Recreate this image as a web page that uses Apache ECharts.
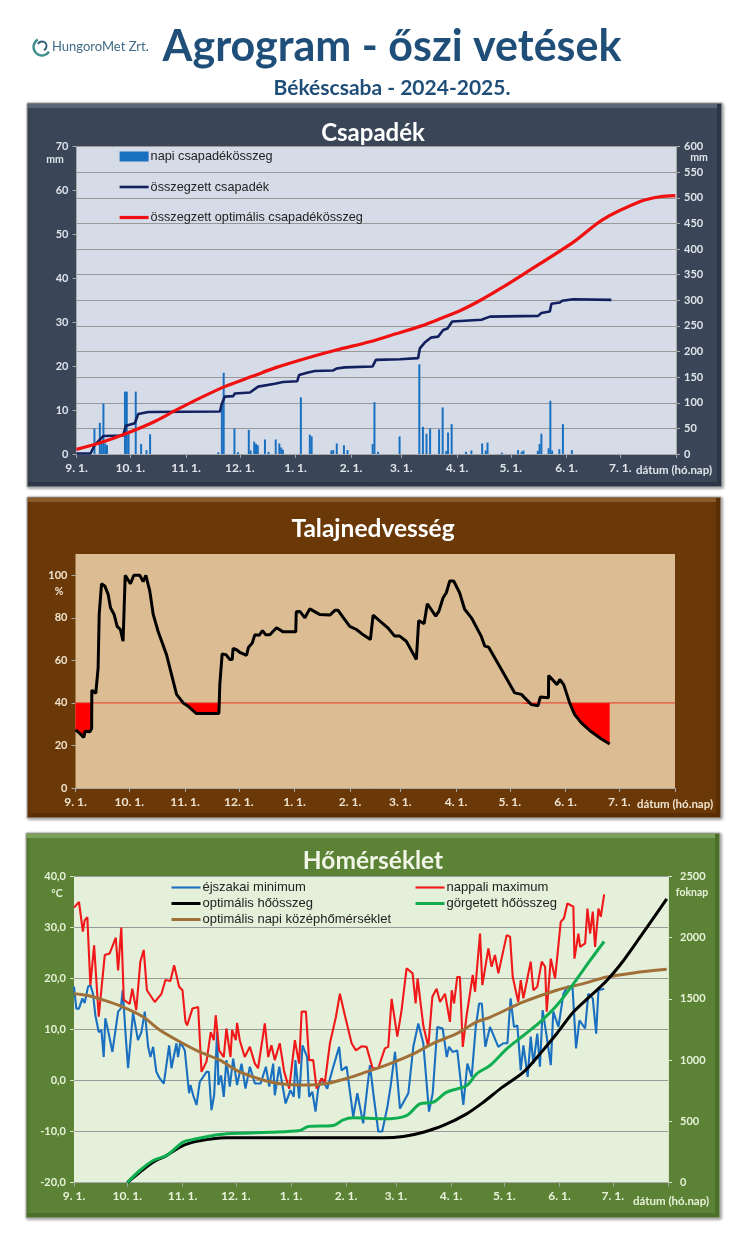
<!DOCTYPE html>
<html>
	<head>
		<meta charset="UTF-8">
		<title>Agrogram - őszi vetések</title>
		<script type="text/javascript" src="https://cdn.jsdelivr.net/npm/echarts@6/dist/echarts.min.js"></script>
		<style>
			html, body { margin: 0; padding: 0; background: #fff; }
		</style>
	</head>
	<body>
		<div id="main" style="width: 750px;height:1242px;"></div>
		<script type="text/javascript">
			// x values are days counted from 1 September
			var monthTicks = [0, 30, 61, 91, 122, 153, 181, 212, 242, 273, 303, 334];
			var monthLabels = ['9. 1.', '10. 1.', '11. 1.', '12. 1.', '1. 1.', '2. 1.', '3. 1.', '4. 1.', '5. 1.', '6. 1.', '7. 1.', ''];

			var rainDaily = [[10,5.8],[13,7.1],[14,2.4],[15,11.5],[16,2.4],[17,2],[27,14.2],[28,14.2],[29,4.7],[33,14.2],[36,2.3],[39,0.9],[41,4.5],
				[79,0.4],[81,10.8],[82,18.5],[88,5.8],[90,0.4],[96,5.5],[97,0.8],[99,2.8],[100,2.3],[101,2],[105,3.3],[107,0.5],[111,3.3],[113,2.4],[114,1.5],[115,1],
				[125,12.9],[130,4.4],[131,4],[142,0.8],[143,0.9],[145,2.4],[149,2],[151,0.9],[165,2.3],[166,11.8],[168,0.5],
				[180,4],[191,20.4],[193,6.2],[195,4.6],[197,5.8],[202,5.6],[204,10.6],[206,0.7],[207,4.9],[209,6.8],[217,0.5],[220,0.8],[226,2.4],[228,0.8],[229,2.6],
				[237,0.3],[246,0.9],[248,0.5],[249,0.8],[257,0.7],[258,2.3],[259,4.6],[263,1.3],[264,12.1],[265,0.8],[269,1.1],[271,6.8],[276,0.9]];
			var rainSum = [[0,1],[7.8,1],[10.2,17.6],[14.9,35],[26,36],[27.5,55],[32.5,60],[34.4,78],[40,82],[79.9,83],[80.8,96],[82.6,112],[87.3,113],[88.2,118],[96.6,120],
				[101.2,131.5],[110.5,137],[115,140.6],[123,142],[124,154],[129,159],[132.8,162],[143,163],[144.8,166.7],[149.5,169],[164.9,170.6],[166.8,183.6],
				[180.1,185],[190.3,187],[191.3,206],[194,217.4],[197.4,227],[201.5,229],[204.3,242],[206.7,245],[209.3,258.5],[216.3,260],[225.6,262],[230.3,268],
				[257.2,269.5],[259,275],[263.7,278],[264.6,293],[269.3,295.6],[270.6,299],[276.7,302],[298,300.8]];
			var rainOptimal = [[0,9],[14.9,24],[27,39],[42.7,62],[55.7,86],[68.7,109],[82.6,131.5],[98.4,152],[111.4,169],[128.1,187],[144.8,203],[163.4,219],[177.4,234],
				[192.2,250],[203.3,265],[214.5,281],[225.6,301],[236.8,324],[250,353],[277,414],[293,457],[314.4,493],[325,502],[333.6,504]];

			var soilMoisture = [[0,27.3],[2.4,25.7],[4.6,23.8],[5.4,26.7],[8,26.4],[9,28],[9.1,46],[11.3,44.5],[12.6,56.5],[13.2,81.6],[14.5,96],[16.3,95],[18.2,91],[19.5,84.7],[21.5,81.6],
				[23.2,76],[25,74.5],[26.5,69],[27.7,100],[30.6,96],[32.5,100],[35.8,100],[37.7,97],[39.2,100],[41.4,92.5],[43.3,81.6],[46,73.7],[50.7,62.7],[56.3,44],[60,40],[62.8,38.4],[67.4,35],[79.9,35],
				[80.4,48.6],[81.3,49.4],[81.7,63],[83.8,62.7],[86,60.4],[87.3,60.4],[87.8,65.6],[89.7,65],[91.5,63.8],[95.3,62.4],[96.4,66.2],[98.4,68],[99.9,72],[102.3,71.8],[104.2,74],[106,72],[108.3,72],
				[112,75.3],[115.7,73.4],[122.7,73.4],[123,82.8],[125,83],[127.8,80],[130.5,84.2],[136,81.6],[141.7,81.3],[144.5,83.5],[146.3,83.5],[149,80.3],[152.8,76],[156.5,74.5],[160.3,72],[164.3,69.8],
				[165.8,81.3],[171.4,77.2],[174,75.3],[177.8,71.4],[180.6,71.4],[184.3,69],[189.9,60.4],[191.2,78.7],[194.2,77.2],[196,86.6],[200.7,80.8],[202.4,83],[204.8,89.4],[206.6,91.8],[208.5,97.3],[210.7,97.3],
				[214,91.8],[216.8,84],[220.6,80],[226,71.4],[228,66.7],[230.2,66.2],[237.3,55.7],[244.7,44.7],[248.4,44],[254,39.2],[257.7,38.7],[259,42.8],[263.5,42.4],[263.6,52.9],[268.3,48.6],[269.8,51],[272,48.6],
				[275.3,40],[278.1,34.5],[281.8,30.6],[287.4,26.4],[293,23],[297.6,20.7]];
			var soilLimit = [[0,40],[334,40]];

			var tempMin = [[0,18.4],[1.3,14.1],[2.8,14.1],[4.7,16.1],[6,15.2],[7.9,18.4],[9.2,18.7],[10.7,17],[12,12.8],[13.9,9.5],[15.4,9.9],[16.7,4.6],[17.6,12.2],[19.1,9.9],[21.6,5.6],[24.8,13.5],[26.3,14.1],[27.4,17.7],
				[29.1,8.6],[30.4,2.4],[33.2,13.3],[36,7.9],[37.9,9.5],[39.8,13.5],[41.7,6.6],[43,4.6],[44.5,6.6],[46.3,1.7],[48.2,0.4],[50.5,-0.6],[53.5,6.9],[54.8,2.4],[57.6,7.3],[58.5,4.6],[59.8,7.6],[62.3,5.9],
				[64.7,-2.5],[65.5,-0.9],[67,-2.9],[68.9,-4.8],[70.7,-0.3],[74.5,1.7],[75.8,1.7],[77.3,-5.8],[78.8,-2.9],[80.5,9.5],[81.2,-0.9],[82.7,1],[84.2,-3.2],[85.7,4],[87.6,-1.2],[89.5,4.3],[91.7,-0.9],[94.2,3.3],[96.4,-1.6],
				[98.9,2.7],[101.7,-0.6],[104.9,-0.6],[107.9,2.7],[109.8,-1.2],[112,3.3],[112.9,-2.9],[115.4,2.7],[119,-4.5],[121.7,-1.9],[123.6,-3.2],[124.5,4],[126.6,-3.5],[128.5,6.9],[131.1,4.6],[132.2,-3.2],[134,-2.2],[135.8,-6.1],[137.3,-1.6],
				[139.2,0.4],[142.4,-1.6],[145.8,2.7],[149.1,6.6],[150.4,2],[153.3,2.7],[157,-7.1],[159.3,-2.5],[162.6,-8.4],[166.4,3],[168.3,-2.5],[171.1,-10],[173.3,-10],[176.2,-5.2],[178,-1.2],[180.5,5.6],[183.3,-5.5],[188,-2.5],
				[190.8,6.6],[193.6,11.2],[196.4,7.3],[199.6,-6.1],[201.7,-2.5],[204.3,10.5],[207.3,10.2],[209.6,4.6],[210.9,6.6],[212.9,5.6],[215.5,5.9],[218.9,-4.8],[221.2,3.3],[223.6,0.7],[225.9,10.5],[227.8,15.1],[229.3,15.1],[231.3,6.6],
				[233.9,10.5],[238.6,6.6],[241.4,7.3],[243.7,7.3],[245.5,16.1],[247.4,10.5],[249.3,10.8],[251.2,2],[252.7,6.9],[255.1,0.7],[256.8,8.6],[258.3,3.3],[260.5,9.2],[262,2.7],[263.5,13.8],[265.8,8.6],[268.1,3],[269.5,13.5],[272.4,10.5],
				[275.2,17],[277.4,18.4],[280.3,18.4],[282.3,6.3],[284.2,11.8],[287.4,10.2],[289.2,17],[291.7,16.1],[293.6,9.2],[294.9,17.7],[298.1,18]];
			var tempMax = [[0,33.9],[2.8,35],[5,29.2],[6,31.4],[7.5,32],[9.2,18.7],[11.3,26.5],[13.9,12.5],[17.3,24.6],[20,24.9],[23.5,28],[24.8,21.6],[26.6,30],[28,15.8],[31.3,15],[32.8,18],[35,13.8],[37.3,23.3],[39.2,25.6],[41,17.7],
				[45.4,15.4],[49.2,17],[51.4,19.7],[54.2,19.5],[56.3,22.6],[59.1,18.4],[61,17.7],[62.7,11.5],[63.6,10.8],[66.6,14.1],[69.8,14.4],[71.7,1.7],[74.5,3.7],[76.9,9.5],[78.6,7.9],[79.7,12.8],[81.6,5.9],[84.2,4.6],[85.7,10.2],[88,4.6],
				[88.9,9.9],[91,7.9],[91.7,11.3],[93.2,7.9],[96,4.6],[98.9,6.6],[101.7,3.3],[103.5,2.4],[107.3,11.2],[109.2,4.6],[111,6.9],[112.9,4],[115.7,7.3],[118.2,1.7],[121,-1.6],[124.2,7.9],[126.6,3.3],[128,13.5],[130.4,13.5],[132.2,4],
				[134.5,4],[136.4,-1.6],[139.2,0.4],[141.1,-0.3],[143.9,7.3],[147.3,12.5],[149.5,17],[152.3,12.8],[156.1,7.3],[158.5,5.9],[161.7,6.7],[164.5,6.6],[167.9,2.4],[171.1,2.4],[174.8,6.3],[176.7,6.6],[178.6,16],[181.8,8.6],[184.2,13.8],
				[187,22],[190.4,21],[192.1,15.1],[193.2,20],[196.4,10.8],[199.2,6.6],[201.5,16.4],[203.9,18],[205.8,15.4],[208.6,17],[211.4,11.5],[212.4,17.7],[213.7,15.1],[215.5,20.3],[217,20.3],[218.6,6.6],[220.8,12.8],[224.2,20.7],[225.5,17.4],
				[228.3,28.8],[229.6,18.7],[233,25.9],[234.8,22.3],[236.7,24.6],[238.6,21],[243.3,28.5],[245.2,28.2],[246.7,20.3],[249.8,15.4],[251.2,19.7],[252.7,16.1],[256.8,23.3],[258.3,17.7],[260.5,18.4],[263,23.3],[264.9,22.3],[265.8,13.5],
				[268.1,23.9],[270.5,20],[273.7,31.1],[275.5,31.8],[277.4,34.7],[280.8,34.1],[281.4,23.9],[283.6,28.8],[284.6,26.2],[287.4,26.9],[288.7,33.7],[290.2,28.8],[291.7,33.1],[293,26.2],[294.9,33.7],[296.2,32.1],[298.1,36.5]];
			var tempOptimal = [[0,17],[7,16.7],[16.3,15.8],[27.6,14.4],[38.8,12.5],[48.2,9.9],[59.5,7.6],[70.7,5.6],[82,4],[91.4,2],[100.8,0.7],[108.2,-0.1],[117.6,-0.7],[130.7,-0.9],[142,-0.6],[153.3,0.4],[164.5,1.7],[177.7,3.3],
				[190.8,5.2],[202,7.3],[215.2,9.2],[226.4,11.5],[233.9,12.4],[252.7,15.4],[271.4,17.7],[286.4,19],[299.6,20.3],[314.6,21.1],[333.3,21.8]];
			var heatOptimal = [[30,0],[37,84],[44.5,166],[52,220],[59.5,289],[67,330],[78.2,357],[85.7,365],[110,365],[173.9,365],[185.2,376],[196.4,411],[207.7,466],[220.8,561],[230.2,656],[239.6,765],[252.7,901],[262,1051],
				[271.4,1215],[280.8,1392],[290.2,1522],[299.6,1650],[309,1814],[318.3,2004],[333.3,2317]];
			var heatRolling = [[30,0],[37,98],[44.5,180],[52,220],[61.4,330],[68.9,357],[82,392],[93.2,403],[110,411],[127,425],[131.7,458],[145.8,466],[151.4,512],[157,528],[173.9,520],[187,547],[194.5,643],[202,656],[209.6,738],
				[220.8,792],[226.4,888],[233.9,956],[243.3,1092],[252.7,1201],[262,1310],[271.4,1446],[280.8,1623],[290.2,1814],[298.1,1969]];

			// the red fill runs from the 40 % limit down to the moisture line
			var soilDeficit = soilMoisture.map(function (p) {
				return [p[0], Math.min(p[1], 40)];
			});

			var fontName = 'Lato';

			function panel(x, y, w, h, color, light, dark) {
				return [
					{ type: 'rect', z: -10, shape: { x: x, y: y, width: w, height: h }, style: { fill: color, stroke: '#b5b5b5', lineWidth: 1, shadowBlur: 3, shadowColor: 'rgba(0,0,0,0.4)', shadowOffsetX: 1, shadowOffsetY: 1 } },
					{ type: 'rect', z: -9, shape: { x: x + 1, y: y + 1, width: w - 2, height: 4 }, style: { fill: light } },
					{ type: 'rect', z: -9, shape: { x: x + 1, y: y + h - 5, width: w - 2, height: 4 }, style: { fill: dark } },
					{ type: 'rect', z: -9, shape: { x: x + w - 5, y: y + 1, width: 4, height: h - 2 }, style: { fill: dark } }
				];
			}

			function label(text, x, y, size, color, align, weight) {
				return {
					type: 'text', z: 50, x: x, y: y,
					style: { text: text, fill: color, fontFamily: fontName, fontSize: size, fontWeight: weight || 'bold', align: align || 'center', verticalAlign: 'middle' }
				};
			}

			function dateAxis(index, color) {
				return {
					type: 'value', gridIndex: index, min: 0, max: 334,
					axisLine: { onZero: false, lineStyle: { color: '#a8a8a8' } },
					axisTick: { customValues: monthTicks, length: 4, lineStyle: { color: '#a8a8a8' } },
					axisLabel: {
						customValues: monthTicks.slice(0, -1), color: color, fontFamily: fontName, fontSize: 12, fontWeight: 'bold', margin: 8,
						formatter: function (v) { return monthLabels[monthTicks.indexOf(v)]; }
					},
					splitLine: { show: false }
				};
			}

			function lineSeries(name, data, color, width, x, y, smooth) {
				return {
					name: name, type: 'line', xAxisIndex: x, yAxisIndex: y, data: data, symbol: 'none', smooth: smooth ? 0.3 : false,
					lineStyle: { color: color, width: width }, itemStyle: { color: color },
					animation: false
				};
			}

			// line entries of the legend show only the stroke, not the series symbol
			function strokeOnly(names) {
				return names.map(function (name) {
					return { name: name, itemStyle: { opacity: 0 } };
				});
			}

			var myChart = echarts.init(document.getElementById('main'));

			var graphics = [].concat(
				panel(27, 103, 695, 384, '#3a4657', '#5a6675', '#2c3644'),
				panel(27, 497, 694, 321, '#6b3907', '#8a5a28', '#5a2f05'),
				panel(26, 833, 694, 385, '#5b8235', '#7da158', '#4c6f2b'),
				[
					{ type: 'arc', z: 50, shape: { cx: 42, cy: 47, r: 8.5, startAngle: 0.6, endAngle: 4.2 }, style: { stroke: '#3f8f8c', fill: null, lineWidth: 2.5 } },
					{ type: 'arc', z: 50, shape: { cx: 42, cy: 46, r: 4.5, startAngle: 3.6, endAngle: 7.4 }, style: { stroke: '#2f5f7a', fill: null, lineWidth: 2 } },
					label('HungoroMet Zrt.', 52, 47, 13, '#3f6a84', 'left', 'normal'),
					label('Agrogram - őszi vetések', 392, 47, 43, '#1f4e79'),
					label('Békéscsaba - 2024-2025.', 392, 88, 21, '#1f4e79'),
					label('Csapadék', 373, 133, 24, '#ffffff'),
					label('Talajnedvesség', 373, 529, 24.5, '#ffffff'),
					label('Hőmérséklet', 373, 861, 24.5, '#f0f5e8'),
					label('mm', 55, 160, 10.5, '#dfe4ea'),
					label('mm', 699, 158, 10.5, '#dfe4ea'),
					label('dátum (hó.nap)', 674, 470, 11.5, '#dfe4ea'),
					label('%', 59, 592, 10.5, '#f0e4d0'),
					label('dátum (hó.nap)', 675, 804, 11.5, '#f0e4d0'),
					label('°C', 57, 894, 10.5, '#e8f2da'),
					label('foknap', 692, 893, 10.5, '#e8f2da'),
					label('dátum (hó.nap)', 671, 1201, 11.5, '#e8f2da')
				]
			);

			myChart.setOption({
				animation: false,
				textStyle: { fontFamily: fontName },
				graphic: { elements: graphics },
				legend: [
					{
						left: 113, top: 145, orient: 'vertical', itemGap: 17.5, itemWidth: 29, itemHeight: 10, selectedMode: false,
						lineStyle: { width: 'inherit' },
						textStyle: { color: '#222', fontSize: 12.7, fontFamily: 'Liberation Sans', padding: [0, 0, 0, -3] },
						data: [{ name: 'napi csapadékösszeg', icon: 'rect' }].concat(strokeOnly(['összegzett csapadék', 'összegzett optimális csapadékösszeg']))
					},
					{
						left: 165, top: 876, orient: 'vertical', itemGap: 3, itemWidth: 29, itemHeight: 12, selectedMode: false,
						lineStyle: { width: 'inherit' },
						textStyle: { color: '#222', fontSize: 13, fontFamily: 'Liberation Sans', padding: [0, 0, 0, -3] },
						data: strokeOnly(['éjszakai minimum', 'optimális hőösszeg', 'optimális napi középhőmérséklet'])
					},
					{
						left: 409, top: 876, orient: 'vertical', itemGap: 3, itemWidth: 29, itemHeight: 12, selectedMode: false,
						lineStyle: { width: 'inherit' },
						textStyle: { color: '#222', fontSize: 13, fontFamily: 'Liberation Sans', padding: [0, 0, 0, -3] },
						data: strokeOnly(['nappali maximum', 'görgetett hőösszeg'])
					}
				],
				grid: [
					{ show: true, left: 76.5, width: 599.5, top: 146.5, height: 307.5, backgroundColor: '#d5dce8', borderWidth: 0 },
					{ show: true, left: 75.5, width: 599.5, top: 554, height: 234, backgroundColor: '#dcbd93', borderWidth: 0 },
					{ show: true, left: 74, width: 594, top: 876.5, height: 306, backgroundColor: '#e5f0da', borderWidth: 0 }
				],
				xAxis: [
					dateAxis(0, '#dfe4ea'),
					dateAxis(1, '#f0e4d0'),
					dateAxis(2, '#e8f2da')
				],
				yAxis: [
					{
						type: 'value', gridIndex: 0, min: 0, max: 70, interval: 10, splitLine: { show: false },
						axisLine: { show: true, lineStyle: { color: '#a8a8a8' } }, axisTick: { show: true, length: 4, lineStyle: { color: '#a8a8a8' } },
						axisLabel: { color: '#dfe4ea', fontSize: 11, fontWeight: 'bold' }
					},
					{
						type: 'value', gridIndex: 0, position: 'right', min: 0, max: 600, interval: 50,
						splitLine: { show: true, lineStyle: { color: '#999', width: 1.2 } },
						axisLine: { show: true, lineStyle: { color: '#a8a8a8' } }, axisTick: { show: true, length: 4, lineStyle: { color: '#a8a8a8' } },
						axisLabel: { color: '#dfe4ea', fontSize: 11, fontWeight: 'bold' }
					},
					{
						type: 'value', gridIndex: 1, min: 0, max: 110, splitLine: { show: false },
						axisLine: { show: false },
						axisTick: { show: true, customValues: [0, 20, 40, 60, 80, 100], length: 4, lineStyle: { color: '#a8a8a8' } },
						axisLabel: { customValues: [0, 20, 40, 60, 80, 100], color: '#f0e4d0', fontSize: 11, fontWeight: 'bold' }
					},
					{
						type: 'value', gridIndex: 2, min: -20, max: 40, interval: 10,
						splitLine: { show: true, lineStyle: { color: '#999', width: 1.2 } },
						axisLine: { show: false }, axisTick: { show: true, length: 4, lineStyle: { color: '#d8e4c8' } },
						axisLabel: { color: '#e8f2da', fontSize: 11, fontWeight: 'bold', formatter: function (v) { return v.toFixed(1).replace('.', ','); } }
					},
					{
						type: 'value', gridIndex: 2, position: 'right', min: 0, max: 2500, interval: 500, splitLine: { show: false },
						axisLine: { show: true, lineStyle: { color: '#d8e4c8' } }, axisTick: { show: true, length: 4, lineStyle: { color: '#d8e4c8' } },
						axisLabel: { color: '#e8f2da', fontSize: 11, fontWeight: 'bold', margin: 12, formatter: function (v) { return String(v); } }
					}
				],
				series: [
					{
						name: 'napi csapadékösszeg', type: 'bar', xAxisIndex: 0, yAxisIndex: 0, data: rainDaily, barWidth: 2,
						itemStyle: { color: '#1a70c0' }, animation: false
					},
					lineSeries('összegzett csapadék', rainSum, '#12205f', 2.6, 0, 1),
					lineSeries('összegzett optimális csapadékösszeg', rainOptimal, '#f01010', 3.2, 0, 1, true),

					{
						name: 'deficit', type: 'line', xAxisIndex: 1, yAxisIndex: 2, data: soilDeficit, symbol: 'none',
						lineStyle: { width: 0 }, areaStyle: { color: '#ff0000', origin: 40, opacity: 1 }, animation: false
					},
					lineSeries('limit', soilLimit, '#e83020', 1, 1, 2),
					lineSeries('talajnedvesség', soilMoisture, '#000000', 3, 1, 2),

					lineSeries('éjszakai minimum', tempMin, '#1a70c0', 2.1, 2, 3),
					lineSeries('nappali maximum', tempMax, '#f01818', 2.1, 2, 3),
					lineSeries('optimális napi középhőmérséklet', tempOptimal, '#a07038', 3, 2, 3, true),
					lineSeries('optimális hőösszeg', heatOptimal, '#000000', 3, 2, 4, true),
					lineSeries('görgetett hőösszeg', heatRolling, '#10ae50', 3, 2, 4, true)
				]
			});
		</script>
	</body>
</html>
